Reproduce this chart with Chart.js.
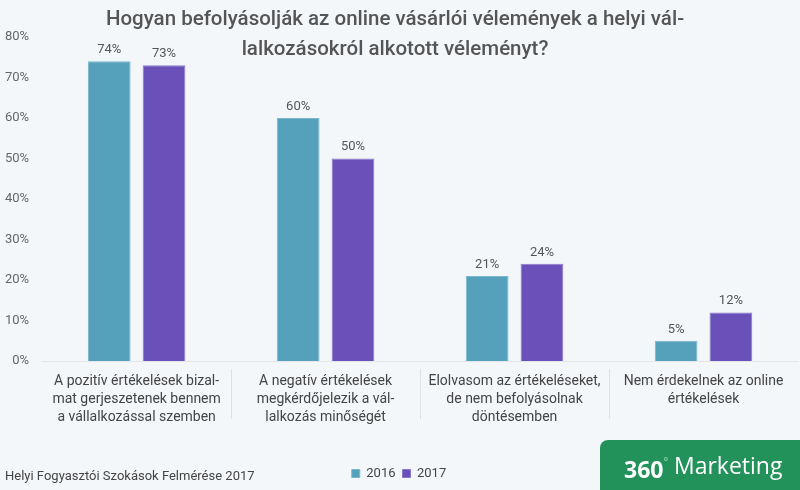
<!DOCTYPE html>
<html lang="hu">
<head>
<meta charset="utf-8">
<script src="https://cdn.jsdelivr.net/npm/chart.js@4/dist/chart.umd.min.js"></script>
<style>
    html, body { margin: 0; padding: 0; }
    body { width: 800px; height: 490px; background: #f4f7fa; position: relative; overflow: hidden; font-family: Roboto, "Open Sans", sans-serif; }
    #wrap { position: absolute; left: 0; top: 0; width: 800px; height: 490px; }
    .title { position: absolute; left: -5px; top: 3px; width: 800px; text-align: center; font-size: 20.5px; font-weight: 500; line-height: 30px; color: #555; }
    .source { position: absolute; left: 5px; top: 468px; font-size: 13px; color: #444; }
    .logo { position: absolute; left: 600px; top: 440px; width: 200px; height: 50px; background: #22915a; border-top-left-radius: 8px; color: #fff; font-size: 23px; line-height: 50px; }
    .logo b { position: absolute; left: 24px; font-family: "Open Sans", sans-serif; font-weight: 700; }
    .logo sup { font-size: 11px; color: #7cc79c; position: relative; top: -4px; }
    .logo span { position: absolute; left: 74px; font-family: "Open Sans", sans-serif; font-weight: 400; }
</style>
</head>
<body>
<div id="wrap"><canvas id="chart"></canvas></div>
<div class="title">Hogyan befolyásolják az online vásárlói vélemények a helyi vál-<br>lalkozásokról alkotott véleményt?</div>
<div class="source">Helyi Fogyasztói Szokások Felmérése 2017</div>
<div class="logo"><b>360<sup>°</sup></b><span>Marketing</span></div>

<script>
// Chart data
const categories = [
    ['A pozitív értékelések bizal-', 'mat gerjeszetenek bennem', 'a vállalkozással szemben'],
    ['A negatív értékelések', 'megkérdőjelezik a vál-', 'lalkozás minőségét'],
    ['Elolvasom az értékeléseket,', 'de nem befolyásolnak', 'döntésemben'],
    ['Nem érdekelnek az online', 'értékelések']
];
const seriesNames = ['2016', '2017'];
const values2016 = [74, 60, 21, 5];
const values2017 = [73, 50, 24, 12];
const yTicks = [0, 10, 20, 30, 40, 50, 60, 70, 80];

/**
 * Value labels above bars
 */
const valueLabels = {
    id: 'valueLabels',
    afterDatasetsDraw(chart) {
        const ctx = chart.ctx;
        ctx.save();
        ctx.font = '13px Roboto, sans-serif';
        ctx.fillStyle = '#555';
        ctx.textAlign = 'center';
        ctx.textBaseline = 'bottom';
        chart.data.datasets.forEach((ds, i) => {
            chart.getDatasetMeta(i).data.forEach((bar, j) => {
                ctx.fillText(ds.data[j] + '%', bar.x, bar.y - 5);
            });
        });
        ctx.restore();
    }
};

/**
 * Vertical dividers between category labels
 */
const labelDividers = {
    id: 'labelDividers',
    afterDraw(chart) {
        const x = chart.scales.x;
        const ctx = chart.ctx;
        ctx.save();
        ctx.strokeStyle = '#dde1e5';
        ctx.lineWidth = 1;
        for (let i = 0; i < categories.length - 1; i++) {
            const px = Math.round((x.getPixelForValue(i) + x.getPixelForValue(i + 1)) / 2) + 0.5;
            ctx.beginPath();
            ctx.moveTo(px, x.top + 8);
            ctx.lineTo(px, x.top + 58);
            ctx.stroke();
        }
        ctx.restore();
    }
};

new Chart(document.getElementById('chart'), {
    type: 'bar',
    data: {
        labels: categories,
        datasets: [
            {
                label: seriesNames[0],
                data: values2016,
                backgroundColor: '#55a1bc',
                borderColor: '#7ab6cc',
                borderWidth: 1
            },
            {
                label: seriesNames[1],
                data: values2017,
                backgroundColor: '#6a51b9',
                borderColor: '#8a77cc',
                borderWidth: 1
            }
        ]
    },
    options: {
        responsive: true,
        maintainAspectRatio: false,
        animation: false,
        categoryPercentage: 0.58,
        barPercentage: 0.78,
        layout: { padding: { top: 37, right: 2, left: 0, bottom: 0 } },
        plugins: {
            title: { display: false },
            tooltip: { enabled: false },
            legend: {
                position: 'bottom',
                labels: {
                    boxWidth: 8,
                    boxHeight: 8,
                    padding: 7,
                    color: '#444',
                    font: { family: 'Roboto, sans-serif', size: 13 }
                }
            }
        },
        scales: {
            x: {
                grid: { display: false },
                border: { display: true, color: '#e3e7eb' },
                ticks: {
                    color: '#444',
                    padding: 3,
                    maxRotation: 0,
                    autoSkip: false,
                    font: { family: 'Roboto, sans-serif', size: 14, lineHeight: 1.3 }
                },
                afterFit(scale) {
                    scale.height = 99;
                }
            },
            y: {
                min: 0,
                max: 80,
                grid: { display: false },
                border: { display: false },
                afterBuildTicks(scale) {
                    scale.ticks = yTicks.map(v => ({ value: v }));
                },
                ticks: {
                    color: '#666',
                    padding: 5,
                    font: { family: 'Roboto, sans-serif', size: 13 },
                    callback: v => v + '%'
                }
            }
        }
    },
    plugins: [valueLabels, labelDividers]
});
</script>
</body>
</html>
